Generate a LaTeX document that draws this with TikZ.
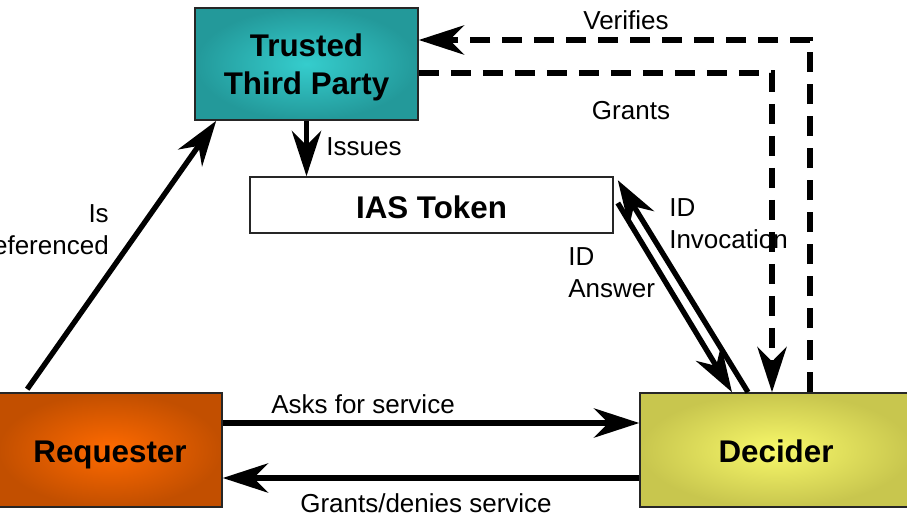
\documentclass[tikz,border=0pt]{standalone}
\usepackage{fontspec}
\setmainfont{Liberation Sans}
\usetikzlibrary{arrows.meta,calc}
\definecolor{tealout}{HTML}{23999A}
\definecolor{tealin}{HTML}{35CDCD}
\definecolor{orgout}{HTML}{C24F00}
\definecolor{orgin}{HTML}{FF6A00}
\definecolor{yelout}{HTML}{C8C64E}
\definecolor{yelin}{HTML}{F8F86A}
\newcommand{\lowr}[2][2.5pt]{\raisebox{-#1}[\height][\depth]{#2}}
\tikzset{
  box/.style={draw=black!85, line width=1.2pt, font=\fontsize{23.5}{27}\selectfont\bfseries, align=center, inner sep=0pt},
  lbl/.style={font=\fontsize{19.5}{24}\selectfont, inner sep=0pt},
  arr/.style={line width=4pt, -{Stealth[length=34pt,width=22pt,inset=11pt]}},
  darr/.style={arr, dash pattern=on 15pt off 9pt}
}
\begin{document}
\begin{tikzpicture}[x=0.75pt,y=-0.75pt]
\useasboundingbox (0,0) rectangle (907,518);
\node[box, minimum width=167.25pt, minimum height=84pt, inner color=tealin, outer color=tealout] (ttp) at (306.5,64) {\lowr[2pt]{Trusted}\\\lowr[3.5pt]{Third Party}};
\node[box, minimum width=272.25pt, minimum height=42pt, fill=white] (ias) at (431.5,205) {\lowr[1.5pt]{IAS Token}};
\node[box, minimum width=168pt, minimum height=85.5pt, inner color=orgin, outer color=orgout] (req) at (110,450) {\lowr[3.5pt]{Requester}};
\node[box, minimum width=204pt, minimum height=85.5pt, inner color=yelin, outer color=yelout] (dec) at (776,450) {\lowr[1pt]{Decider}};

% Requester -> TTP
\draw[arr] ($(req.north west)+(30,-3)$) -- ($(ttp.south west)+(22,0)$);
\node[lbl, anchor=east, align=right] (lisref) at (109,230) {Is\\referenced};
% TTP -> IAS
\draw[arr] (ttp.south) -- (ttp.south |- ias.north);
\node[lbl] (lissues) at (364,147) {Issues};
% Asks for service
\draw[arr] ($(req.east)+(0,-27)$) -- ($(dec.west)+(0,-27)$);
\node[lbl] (lasks) at (363,404) {Asks for service};
% Grants/denies
\draw[arr] ($(dec.west)+(0,28)$) -- ($(req.east)+(0,28)$);
\node[lbl] (lgd) at (426,503) {Grants/denies service};
% Verifies (dashed)
\draw[darr] ($(dec.north)+(34,0)$) |- ($(ttp.east)+(0,-24)$);
\node[lbl] (lver) at (626,20) {Verifies};
% Grants (dashed)
\draw[darr] ($(ttp.east)+(0,9)$) -| ($(dec.north)+(-4,0)$);
\node[lbl] (lgr) at (631,111) {Grants};
% ID Invocation
\draw[arr] ($(dec.north)+(-28,0)$) -- ($(ias.north east)+(4,4)$);
\node[lbl, anchor=west, align=left] (linv) at (669,224) {ID\\Invocation};
% ID Answer
\draw[arr] ($(ias.east)+(4,-2)$) -- ($(dec.north)+(-44,0)$);
\node[lbl, anchor=west, align=left] (lans) at (568,273) {ID\\Answer};
\end{tikzpicture}
\end{document}
